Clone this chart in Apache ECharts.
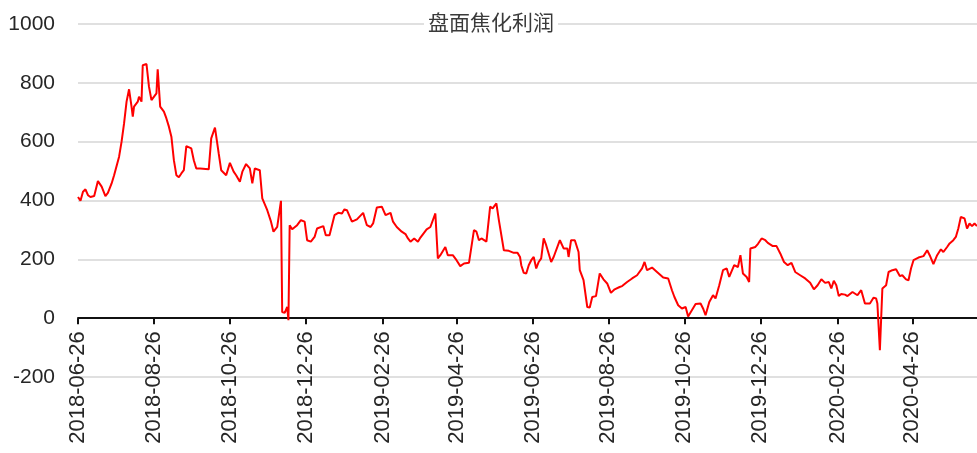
<!DOCTYPE html>
<html>
<head>
<meta charset="utf-8">
<title>盘面焦化利润</title>
<script src="https://cdn.jsdelivr.net/npm/echarts@6/dist/echarts.min.js"></script>
<style>
  html, body { margin: 0; padding: 0; background: #ffffff; }
  #chart { width: 977px; height: 453px; }
</style>
</head>
<body>
<div id="chart"></div>
<script>
// Coking margin on futures (盘面焦化利润), yuan/ton
const titleText = '盘面焦化利润';

// Calendar span of the horizontal axis
const axisStart = '2018-06-26';
const axisEnd = '2020-06-17';

// Value axis ticks
const yMin = -200;
const yMax = 1000;
const yStep = 200;

// Observation dates
const dates = [
  '2018-06-26','2018-06-28','2018-06-30','2018-07-02','2018-07-04','2018-07-06','2018-07-09','2018-07-12',
  '2018-07-15','2018-07-18','2018-07-20','2018-07-23','2018-07-25','2018-07-26','2018-07-29','2018-07-31',
  '2018-08-02','2018-08-04','2018-08-06','2018-08-08','2018-08-09','2018-08-10','2018-08-13','2018-08-14',
  '2018-08-16','2018-08-17','2018-08-20','2018-08-22','2018-08-24','2018-08-25','2018-08-28','2018-08-29',
  '2018-08-31','2018-09-03','2018-09-05','2018-09-06','2018-09-07','2018-09-09','2018-09-11','2018-09-13',
  '2018-09-15','2018-09-17','2018-09-19','2018-09-21','2018-09-25','2018-09-27','2018-09-29','2018-10-02',
  '2018-10-09','2018-10-11','2018-10-14','2018-10-17','2018-10-19','2018-10-23','2018-10-26','2018-10-29',
  '2018-10-31','2018-11-03','2018-11-05','2018-11-08','2018-11-11','2018-11-13','2018-11-15','2018-11-19',
  '2018-11-21','2018-11-25','2018-11-28','2018-11-30','2018-12-03','2018-12-06','2018-12-07','2018-12-09',
  '2018-12-11','2018-12-12','2018-12-13','2018-12-15','2018-12-19','2018-12-22','2018-12-25','2018-12-27',
  '2018-12-30','2019-01-02','2019-01-04','2019-01-09','2019-01-11','2019-01-14','2019-01-18','2019-01-21',
  '2019-01-24','2019-01-26','2019-01-28','2019-02-01','2019-02-05','2019-02-10','2019-02-13','2019-02-16',
  '2019-02-18','2019-02-21','2019-02-25','2019-02-28','2019-03-04','2019-03-06','2019-03-09','2019-03-13',
  '2019-03-16','2019-03-18','2019-03-20','2019-03-23','2019-03-26','2019-03-28','2019-04-02','2019-04-05',
  '2019-04-09','2019-04-11','2019-04-13','2019-04-17','2019-04-19','2019-04-23','2019-04-26','2019-04-29',
  '2019-05-02','2019-05-06','2019-05-10','2019-05-12','2019-05-14','2019-05-16','2019-05-20','2019-05-23',
  '2019-05-25','2019-05-28','2019-05-30','2019-06-03','2019-06-07','2019-06-11','2019-06-14','2019-06-16',
  '2019-06-17','2019-06-19','2019-06-21','2019-06-23','2019-06-25','2019-06-27','2019-06-29','2019-07-01',
  '2019-07-03','2019-07-05','2019-07-07','2019-07-11','2019-07-13','2019-07-18','2019-07-21','2019-07-24',
  '2019-07-25','2019-07-27','2019-07-30','2019-08-02','2019-08-03','2019-08-06','2019-08-09','2019-08-11',
  '2019-08-13','2019-08-16','2019-08-19','2019-08-22','2019-08-25','2019-08-28','2019-08-31','2019-09-04',
  '2019-09-06','2019-09-10','2019-09-14','2019-09-18','2019-09-22','2019-09-24','2019-09-26','2019-09-30',
  '2019-10-04','2019-10-09','2019-10-13','2019-10-16','2019-10-18','2019-10-21','2019-10-24','2019-10-27',
  '2019-10-29','2019-11-01','2019-11-04','2019-11-08','2019-11-10','2019-11-12','2019-11-15','2019-11-18',
  '2019-11-20','2019-11-23','2019-11-26','2019-11-29','2019-12-01','2019-12-05','2019-12-08','2019-12-10',
  '2019-12-12','2019-12-15','2019-12-17','2019-12-18','2019-12-22','2019-12-24','2019-12-27','2019-12-30',
  '2020-01-01','2020-01-05','2020-01-08','2020-01-11','2020-01-14','2020-01-17','2020-01-20','2020-01-23',
  '2020-01-27','2020-01-31','2020-02-04','2020-02-07','2020-02-10','2020-02-13','2020-02-16','2020-02-19',
  '2020-02-21','2020-02-23','2020-02-25','2020-02-27','2020-02-29','2020-03-03','2020-03-05','2020-03-09',
  '2020-03-13','2020-03-16','2020-03-19','2020-03-23','2020-03-26','2020-03-28','2020-03-29','2020-03-31',
  '2020-04-02','2020-04-05','2020-04-07','2020-04-10','2020-04-13','2020-04-16','2020-04-18','2020-04-21',
  '2020-04-23','2020-04-25','2020-04-27','2020-05-01','2020-05-05','2020-05-08','2020-05-10','2020-05-13',
  '2020-05-16','2020-05-19','2020-05-21','2020-05-24','2020-05-26','2020-05-29','2020-05-31','2020-06-02',
  '2020-06-04','2020-06-07','2020-06-09','2020-06-11','2020-06-13','2020-06-15','2020-06-17'
];

// Margin values on those dates
const profit = [
  412, 399, 430, 438, 418, 412, 415, 466,
  447, 415, 426, 458, 486, 483, 549, 600,
  662, 736, 778, 719, 685, 719, 736, 753,
  736, 860, 864, 787, 741, 744, 764, 846,
  719, 702, 679, 685, 651, 617, 537, 486,
  479, 492, 503, 585, 577, 537, 509, 509,
  506, 611, 648, 560, 503, 486, 528, 498,
  486, 464, 498, 524, 509, 458, 509, 503,
  407, 367, 328, 294, 310, 399, 21, 18,
  38, -7, 316, 302, 316, 333, 328, 265,
  260, 276, 305, 313, 282, 282, 350, 358,
  356, 370, 367, 328, 336, 358, 316, 310,
  322, 376, 379, 350, 358, 328, 310, 294,
  286, 271, 260, 271, 260, 274, 302, 310,
  356, 203, 214, 242, 214, 214, 197, 177,
  186, 188, 299, 294, 265, 271, 260, 379,
  373, 390, 333, 231, 229, 222, 222, 208,
  180, 154, 152, 180, 197, 208, 169, 191,
  203, 271, 248, 191, 208, 265, 237, 237,
  208, 265, 265, 225, 163, 129, 38, 36,
  72, 75, 152, 132, 118, 86, 98, 106,
  109, 123, 135, 146, 169, 191, 163, 172,
  157, 138, 135, 95, 72, 44, 33, 38,
  6, 27, 48, 50, 33, 10, 55, 78,
  67, 112, 163, 169, 140, 180, 174, 214,
  152, 140, 123, 237, 242, 252, 271, 265,
  256, 245, 245, 220, 191, 180, 188, 157,
  146, 135, 120, 98, 112, 132, 120, 123,
  101, 127, 112, 75, 82, 80, 75, 89,
  78, 95, 50, 50, 70, 67, 50, -109,
  101, 112, 157, 163, 166, 143, 146, 132,
  129, 169, 197, 206, 211, 231, 214, 184,
  214, 234, 225, 242, 254, 265, 276, 305,
  344, 339, 305, 322, 313, 322, 313
];

// Build one category per calendar day so spacing follows real time
function dayList(from, to) {
  const out = [];
  const d = new Date(from + 'T00:00:00Z');
  const end = new Date(to + 'T00:00:00Z');
  while (d <= end) {
    out.push(d.toISOString().slice(0, 10));
    d.setUTCDate(d.getUTCDate() + 1);
  }
  return out;
}
const calendar = dayList(axisStart, axisEnd);
const lookup = {};
dates.forEach((dt, i) => { lookup[dt] = profit[i]; });
const seriesData = calendar.map(dt => (dt in lookup ? lookup[dt] : null));

// Labels and ticks every two months, on the 26th
const isMarkDay = (idx, value) => /-(02|04|06|08|10|12)-26$/.test(value);

// Plot box; the date axis sits on the zero line, so lift it from the bottom edge
const gridTop = 24;
const gridBottom = 76;
const plotHeight = 453 - gridTop - gridBottom;
const zeroLift = plotHeight * (0 - yMin) / (yMax - yMin);

const chart = echarts.init(document.getElementById('chart'), null, { renderer: 'canvas' });
chart.setOption({
  animation: false,
  backgroundColor: '#ffffff',
  title: {
    text: titleText,
    left: 424,
    top: 10,
    padding: [2, 4],
    backgroundColor: '#ffffff',
    textStyle: {
      fontFamily: '"Noto Sans CJK SC", "Noto Sans", sans-serif',
      fontSize: 21,
      fontWeight: 'normal',
      color: '#3a3a3a'
    }
  },
  grid: { left: 78, right: 0, top: gridTop, bottom: gridBottom, containLabel: false, outerBoundsMode: 'none' },
  xAxis: {
    type: 'category',
    data: calendar,
    boundaryGap: false,
    position: 'bottom',
    offset: -zeroLift,
    axisLine: { onZero: false, lineStyle: { color: '#111111', width: 2 } },
    axisTick: { show: true, interval: isMarkDay, length: 6, lineStyle: { color: '#111111', width: 2 } },
    axisLabel: {
      interval: isMarkDay,
      rotate: 90,
      margin: 13,
      color: '#262626',
      fontSize: 22,
      fontFamily: '"Liberation Sans", Arial, sans-serif'
    },
    splitLine: { show: false }
  },
  yAxis: {
    type: 'value',
    min: yMin,
    max: yMax,
    interval: yStep,
    axisLine: { show: false },
    axisTick: { show: false },
    axisLabel: {
      margin: 23,
      color: '#262626',
      fontSize: 21,
      fontFamily: '"Liberation Sans", Arial, sans-serif',
      formatter: v => String(v)
    },
    splitLine: { lineStyle: { color: '#d6d6d6', width: 1.5 } }
  },
  series: [{
    name: titleText,
    type: 'line',
    data: seriesData,
    connectNulls: true,
    showSymbol: false,
    symbol: 'none',
    lineStyle: { color: '#ff0000', width: 2 },
    itemStyle: { color: '#ff0000' }
  }]
});
</script>
</body>
</html>
